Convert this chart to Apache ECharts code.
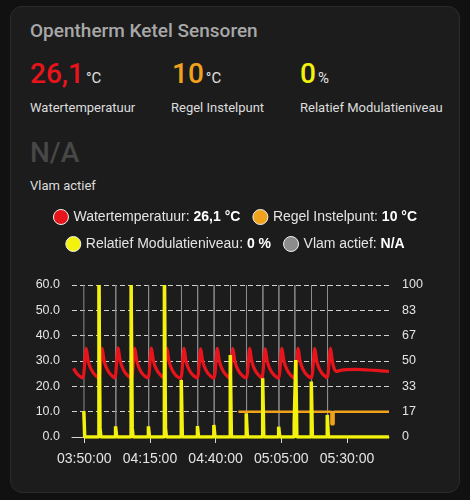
<!DOCTYPE html>
<html>
<head>
<meta charset="utf-8">
<script src="https://cdn.jsdelivr.net/npm/echarts@6/dist/echarts.min.js"></script>
<style>
  html, body { margin: 0; padding: 0; background: #111111; }
  #wrap { position: relative; width: 470px; height: 500px; overflow: hidden; }
  #card { position: absolute; left: 10px; top: 6px; width: 448px; height: 485px;
          background: #1c1c1c; border: 1px solid #2b2b2b; border-radius: 12px; }
  #chart { position: absolute; left: 0; top: 0; width: 470px; height: 500px; }
  .t { position: absolute; font-family: Roboto, "Noto Sans", sans-serif; line-height: 1; white-space: nowrap; }
  .title { font-size: 19px; font-weight: 500; color: #a8a8a8; }
  .big { font-size: 28px; font-weight: 500; }
  .unit { font-size: 15px; font-weight: 400; color: #e0e0e0; line-height: 1; margin-left: 2px; }
  .lbl { font-size: 13px; color: #dcdcdc; }
</style>
</head>
<body>
<div id="wrap">
  <div id="card"></div>
  <div class="t title" style="left:30px;top:21px">Opentherm Ketel Sensoren</div>
  <div class="t big" style="left:30px;top:60px;color:#e8141c">26,1<span class="unit">°C</span></div>
  <div class="t big" style="left:172px;top:60px;color:#f0a21c">10<span class="unit">°C</span></div>
  <div class="t big" style="left:300px;top:60px;color:#f2f20c">0<span class="unit">%</span></div>
  <div class="t lbl" style="left:30px;top:101px">Watertemperatuur</div>
  <div class="t lbl" style="left:171px;top:101px">Regel Instelpunt</div>
  <div class="t lbl" style="left:300px;top:101px">Relatief Modulatieniveau</div>
  <div class="t big" style="left:30px;top:139px;color:#474747">N/A</div>
  <div class="t lbl" style="left:30px;top:179px">Vlam actief</div>
  <div id="chart"></div>
</div>
<script>
// time window of the history graph
const startTime = '03:45:20';
const endTime = '05:46:00';
const timeTicks = ['03:50:00', '04:15:00', '04:40:00', '05:05:00', '05:30:00'];

// current states shown in the legend
const currentValues = {
  'Watertemperatuur': '26,1 °C',
  'Regel Instelpunt': '10 °C',
  'Relatief Modulatieniveau': '0 %',
  'Vlam actief': 'N/A'
};

// Watertemperatuur (°C, left axis)
const waterTemp = [
  ['03:45:55', 27.1], ['03:47:00', 25.3], ['03:48:15', 24.0], ['03:49:25', 23.3],
  ['03:50:45', 35.0], ['03:51:25', 30.5], ['03:52:05', 28.0], ['03:53:15', 25.6], ['03:54:35', 24.0], ['03:55:30', 23.3],
  ['03:56:50', 35.0], ['03:57:30', 30.5], ['03:58:10', 28.0], ['03:59:20', 25.6], ['04:00:40', 24.0], ['04:01:35', 23.3],
  ['04:02:55', 35.2], ['04:03:35', 30.6], ['04:04:15', 28.1], ['04:05:25', 25.6], ['04:06:45', 24.0], ['04:07:55', 23.2],
  ['04:09:15', 35.0], ['04:09:55', 30.5], ['04:10:35', 28.0], ['04:11:45', 25.5], ['04:13:05', 24.0], ['04:14:15', 23.3],
  ['04:15:35', 35.1], ['04:16:15', 30.6], ['04:16:55', 28.0], ['04:18:05', 25.6], ['04:19:25', 24.0], ['04:20:10', 23.4],
  ['04:21:30', 35.0], ['04:22:10', 30.5], ['04:22:50', 28.0], ['04:24:00', 25.5], ['04:25:20', 23.9], ['04:26:40', 23.2],
  ['04:28:00', 35.0], ['04:28:40', 30.4], ['04:29:20', 27.9], ['04:30:30', 25.5], ['04:31:50', 24.0], ['04:33:00', 23.3],
  ['04:34:20', 34.8], ['04:35:00', 30.3], ['04:35:40', 27.9], ['04:36:50', 25.5], ['04:38:10', 24.0], ['04:39:20', 23.2],
  ['04:40:40', 35.0], ['04:41:20', 30.5], ['04:42:00', 28.0], ['04:43:10', 25.5], ['04:44:30', 23.9], ['04:45:15', 23.3],
  ['04:46:35', 34.9], ['04:47:15', 30.4], ['04:47:55', 27.9], ['04:49:05', 25.5], ['04:50:25', 24.0], ['04:51:40', 23.3],
  ['04:53:00', 35.0], ['04:53:40', 30.5], ['04:54:20', 28.0], ['04:55:30', 25.5], ['04:56:50', 23.9], ['04:57:35', 23.3],
  ['04:58:55', 34.8], ['04:59:35', 30.4], ['05:00:15', 27.9], ['05:01:25', 25.5], ['05:02:45', 24.0], ['05:03:55', 23.2],
  ['05:05:15', 35.0], ['05:05:55', 30.5], ['05:06:35', 28.0], ['05:07:45', 25.5], ['05:09:05', 23.9], ['05:10:05', 23.3],
  ['05:11:25', 35.0], ['05:12:05', 30.5], ['05:12:45', 28.0], ['05:13:55', 25.5], ['05:15:15', 24.0], ['05:16:25', 23.3],
  ['05:17:45', 34.9], ['05:18:25', 30.4], ['05:19:05', 27.9], ['05:20:15', 25.5], ['05:21:15', 24.3], ['05:22:25', 23.4],
  ['05:23:45', 35.0], ['05:24:25', 30.0], ['05:25:05', 27.2], ['05:26:00', 25.9], ['05:27:30', 26.3], ['05:30:00', 26.6],
  ['05:33:00', 26.7], ['05:37:00', 26.5], ['05:41:00', 26.3], ['05:46:00', 25.9]
];

// Regel Instelpunt (°C, left axis), value holds until next point
const setpoint = [
  ['04:48:40', 10], ['05:24:05', 5], ['05:24:55', 10], ['05:46:00', 10]
];

// Relatief Modulatieniveau (%, right axis)
const modulation = [
  ['03:49:50', 17], ['03:50:10', 0],
  ['03:55:35', 100], ['03:56:00', 6], ['03:56:20', 0],
  ['04:01:55', 7], ['04:02:20', 0],
  ['04:07:50', 100], ['04:08:15', 6], ['04:08:35', 0],
  ['04:14:25', 7], ['04:14:50', 0],
  ['04:20:30', 100], ['04:20:55', 6], ['04:21:15', 0],
  ['04:26:55', 37.5], ['04:27:20', 0],
  ['04:33:05', 7.2], ['04:33:30', 0],
  ['04:39:20', 7.9], ['04:39:45', 0],
  ['04:45:35', 54], ['04:46:00', 0],
  ['04:51:40', 15.6], ['04:52:05', 0],
  ['04:57:55', 38.7], ['04:58:20', 0],
  ['05:04:00', 6.8], ['05:04:25', 0],
  ['05:09:55', 8.4], ['05:10:30', 50.7], ['05:10:55', 0],
  ['05:16:25', 36.5], ['05:16:50', 0],
  ['05:22:30', 14.5], ['05:22:55', 0],
  ['05:46:00', 0]
];

// Vlam actief (on = 100 on right axis)
const flame = [
  ['03:49:50', 100], ['03:49:55', 0],
  ['03:56:05', 100], ['03:56:10', 0],
  ['04:02:00', 100], ['04:02:05', 0],
  ['04:08:20', 100], ['04:08:25', 0],
  ['04:14:30', 100], ['04:14:35', 0],
  ['04:21:00', 100], ['04:21:05', 0],
  ['04:27:00', 100], ['04:27:05', 0],
  ['04:33:10', 100], ['04:33:15', 0],
  ['04:39:25', 100], ['04:39:30', 0],
  ['04:45:40', 100], ['04:45:45', 0],
  ['04:51:45', 100], ['04:51:50', 0],
  ['04:58:00', 100], ['04:58:05', 0],
  ['05:04:05', 100], ['05:04:10', 0],
  ['05:10:10', 100], ['05:10:15', 0],
  ['05:16:30', 100], ['05:16:35', 0],
  ['05:22:35', 100], ['05:22:40', 0],
  ['05:46:00', 0]
];

const leftTicks = { min: 0, max: 60, step: 10 };
const rightTicks = { min: 0, max: 100, step: 100 / 6 };

function toSec(s) {
  const p = s.split(':').map(Number);
  return p[0] * 3600 + p[1] * 60 + p[2];
}
function fmtTime(v) {
  const h = Math.floor(v / 3600), m = Math.floor((v % 3600) / 60), s = Math.round(v % 60);
  return [h, m, s].map(n => String(n).padStart(2, '0')).join(':');
}
function conv(list) {
  return list.map(d => [toSec(d[0]), d[1]]);
}

const axisColor = '#d6d6d6';
const font = '"Liberation Sans", Arial, sans-serif';

const legendBase = {
  left: 'center',
  icon: 'circle',
  itemWidth: 15,
  itemHeight: 15,
  itemGap: 12,
  itemStyle: { borderColor: '#f0f0f0', borderWidth: 1 },
  formatter: name => '{n|' + name + ': }{b|' + currentValues[name] + '}',
  textStyle: {
    rich: {
      n: { fontSize: 14, color: '#e4e4e4', fontFamily: font },
      b: { fontSize: 14, color: '#ffffff', fontWeight: 'bold', fontFamily: font }
    }
  }
};

var myChart = echarts.init(document.getElementById('chart'));
var option = {
  animation: false,
  backgroundColor: 'transparent',
  legend: [
    Object.assign({}, legendBase, { top: 204, data: ['Watertemperatuur', 'Regel Instelpunt'] }),
    Object.assign({}, legendBase, { top: 231, data: ['Relatief Modulatieniveau', 'Vlam actief'] })
  ],
  grid: { left: 72, right: 81, top: 285, bottom: 63 },
  xAxis: {
    type: 'value',
    min: toSec(startTime),
    max: toSec(endTime),
    splitLine: { show: false },
    axisLine: { show: true, lineStyle: { color: axisColor, width: 1 } },
    axisTick: {
      show: true, length: 6, lineStyle: { color: axisColor },
      customValues: timeTicks.map(toSec)
    },
    axisLabel: {
      customValues: timeTicks.map(toSec),
      formatter: v => fmtTime(v),
      color: '#e4e4e4', fontSize: 14, fontFamily: font, margin: 15
    }
  },
  yAxis: [
    {
      type: 'value',
      min: leftTicks.min, max: leftTicks.max, interval: leftTicks.step,
      axisLine: { show: false },
      axisTick: { show: false },
      axisLabel: { formatter: v => v.toFixed(1), color: '#e4e4e4', fontSize: 12.5, fontFamily: font, margin: 12 },
      splitLine: { show: true, lineStyle: { color: '#d0d0d0', type: [5, 3], width: 1 } }
    },
    {
      type: 'value',
      min: rightTicks.min, max: rightTicks.max, interval: rightTicks.step,
      axisLine: { show: false },
      axisTick: { show: false },
      axisLabel: { formatter: v => String(Math.round(v)), color: '#e4e4e4', fontSize: 12.5, fontFamily: font, margin: 13 },
      splitLine: { show: false }
    }
  ],
  series: [
    {
      name: 'Vlam actief', type: 'line', yAxisIndex: 1, step: 'end',
      data: conv(flame), showSymbol: false, z: 1,
      itemStyle: { color: '#8c8c8c' },
      lineStyle: { color: '#8c8c8c', width: 1 }
    },
    {
      name: 'Watertemperatuur', type: 'line', yAxisIndex: 0,
      data: conv(waterTemp), showSymbol: false, smooth: 0.3, z: 2,
      itemStyle: { color: '#e8141c' },
      lineStyle: { color: '#e8141c', width: 3.2 }
    },
    {
      name: 'Regel Instelpunt', type: 'line', yAxisIndex: 0, step: 'end',
      data: conv(setpoint), showSymbol: false, z: 3,
      itemStyle: { color: '#f0a21c' },
      lineStyle: { color: '#f0a21c', width: 2.5 }
    },
    {
      name: 'Relatief Modulatieniveau', type: 'line', yAxisIndex: 1, step: 'end',
      data: conv(modulation), showSymbol: false, z: 4,
      itemStyle: { color: '#f2f20c' },
      lineStyle: { color: '#f2f20c', width: 3.5 }
    }
  ]
};
myChart.setOption(option);
</script>
</body>
</html>
